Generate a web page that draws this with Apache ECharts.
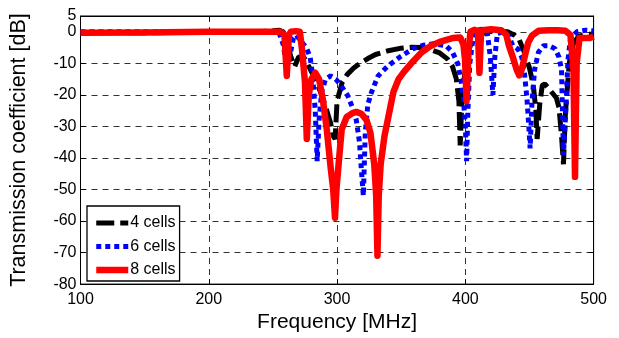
<!DOCTYPE html>
<html>
<head>
<meta charset="utf-8">
<script src="https://cdn.jsdelivr.net/npm/echarts@6/dist/echarts.min.js"></script>
<style>
html,body{margin:0;padding:0;background:#fff;}
#chart{width:619px;height:338px;}
</style>
</head>
<body>
<div id="chart"></div>
<script>
// ---- data (frequency in MHz, transmission in dB) ----
const seriesNames = ["4 cells", "6 cells", "8 cells"];
const xTicks = [100, 200, 300, 400, 500];
const yTicks = [-80, -70, -60, -50, -40, -30, -20, -10, 0, 5];

const f4 = [100, 150, 200, 230, 250, 255, 258, 261, 264, 267, 270, 274, 278, 283, 288, 292, 295, 297, 298.5, 300, 304, 308, 313, 318, 324, 330, 340, 350, 358, 366, 374, 380, 386, 390, 393, 395, 396, 397, 399, 402, 405, 410, 418, 426, 433, 438, 442, 446, 450, 453, 455, 456, 458, 460, 462, 465, 468, 471, 473, 475, 476.5, 478, 481, 484, 488, 492, 496, 500];
const db4 = [-0.2, -0.3, -0.2, -0.2, 0.3, 0.5, 0, -3, -8, -11, -8, -8, -11, -15, -20, -25, -29, -33, -34, -22, -16, -13.5, -11.5, -10, -8.5, -7.2, -6, -5.2, -4.9, -5, -5.8, -6.7, -8.6, -11, -15, -22, -36, -25, -15, -7, -3, -1, 0, 0.2, 0, -1, -2.5, -6.5, -11.5, -17, -25, -34, -23, -17, -16.5, -18, -19.5, -21, -24, -33, -42, -26, -10, -4, -1.5, -1, -0.7, -1];

const f6 = [100, 150, 200, 250, 255, 258, 260, 262, 264, 266, 268, 272, 276, 279, 281, 283, 284.5, 286, 288, 291, 295, 299, 303, 308, 312, 315, 317.5, 319, 320.5, 322, 324, 327, 332, 340, 349, 359, 367, 375, 385, 390, 394, 396.5, 398.5, 400, 401, 402, 403.5, 406, 409, 413, 417, 419.5, 421.5, 423, 425, 430, 434, 437, 441, 444, 446, 448, 449.5, 450.5, 452, 454, 457, 461, 465, 470, 473, 475, 476.5, 478.5, 480, 482, 487, 494, 500];
const db6 = [0, 0, 0, 0, -0.5, -4, -9, -10, -6, -2, -1, -3, -5, -8, -14, -25, -41, -28, -19, -15, -14, -15, -17, -20, -24, -28, -35, -44, -52, -32, -23, -19, -14, -10.7, -8, -5.4, -4.3, -3.8, -4.4, -6.5, -10, -15, -21, -30, -41, -25, -10, -2, 0.5, 0.8, 0, -8, -20, -8, -0.5, 0, -1.5, -4.4, -5.5, -8, -12.8, -21, -30, -37, -22, -12, -6.5, -4.4, -4.4, -5.4, -8, -12, -39, -24, -9, -2, 0, 0.5, 0.3];

const f8 = [100, 150, 200, 250, 256, 259, 260.8, 262.5, 264, 268, 271, 272.5, 275, 276.4, 278, 280, 283, 286, 289, 292, 295, 297, 298.4, 299.5, 301, 303.6, 307.5, 312, 315, 319, 323, 326, 329, 330.5, 331.5, 332.5, 334, 337, 341.5, 344, 348, 352, 359, 366, 373, 380, 390, 396, 398.5, 399.8, 401, 402.5, 404, 407, 409.8, 411, 412.3, 415, 420, 428, 432, 434, 437, 440, 442, 444, 446.5, 449, 452, 457, 465, 472, 478, 482, 484.3, 485.5, 486.8, 489, 493, 497, 500];
const db8 = [-0.3, -0.2, 0, 0, 0, -1, -14, -1, 0, 0.2, 0, -5, -16, -34, -20, -15, -13, -15, -21.7, -31, -43, -50, -59, -50, -43, -31, -27, -25.8, -25.4, -26, -28, -32, -42, -52, -71, -52, -42, -33, -24, -19, -15, -12.8, -9.5, -6.5, -4.5, -3.2, -2, -1.8, -4, -9, -22, -6, 0, 0.6, 0.3, -13, 0.3, 0.6, 0.8, 0.5, -1, -4.4, -8, -12, -13.8, -12, -7.5, -3.5, -1.2, 0.3, 0.5, 0.5, 0.3, -1, -12, -46, -10, -2, -2, -2, -1.5];

const chart = echarts.init(document.getElementById('chart'), null, {renderer: 'canvas'});
const FONT = 'Liberation Sans, Arial, sans-serif';

function pairs(xs, ys) { return xs.map((x, i) => [x, ys[i]]); }

const axisCommon = {
  axisLine: {show: true, onZero: false, lineStyle: {color: '#000', width: 1}},
  axisTick: {show: true, inside: true, length: 5, lineStyle: {color: '#000'}},
};
const yMin = yTicks[0], yMax = yTicks[yTicks.length - 1];

const option = {
  animation: false,
  backgroundColor: '#fff',
  grid: {left: 80.5, right: 25.4, top: 16, bottom: 53, show: true, borderColor: '#000', borderWidth: 1, backgroundColor: 'transparent'},
  legend: {
    orient: 'vertical', left: 87, top: 206,
    data: seriesNames,
    itemWidth: 32, itemHeight: 14, itemGap: 7.5,
    padding: [9, 4, 3, 6],
    backgroundColor: '#fff', borderColor: '#000', borderWidth: 1.3, borderRadius: 0,
    itemStyle: {opacity: 0},
    lineStyle: {width: 'inherit'},
    textStyle: {fontFamily: FONT, fontSize: 16, color: '#000', padding: [0, 0, 0, -3]}
  },
  xAxis: [
    Object.assign({
      type: 'value', min: xTicks[0], max: xTicks[xTicks.length - 1], interval: 100,
      position: 'bottom',
      name: 'Frequency [MHz]', nameLocation: 'middle', nameGap: 27,
      nameTextStyle: {fontFamily: FONT, fontSize: 21, color: '#000'},
      axisLabel: {fontFamily: FONT, fontSize: 16, color: '#000', margin: 7, showMinLabel: true, showMaxLabel: true},
      splitLine: {show: true, lineStyle: {color: '#333', type: [6, 5], width: 1}}
    }, axisCommon),
    Object.assign({
      type: 'value', min: xTicks[0], max: xTicks[xTicks.length - 1], interval: 100,
      position: 'top', axisLabel: {show: false}, splitLine: {show: false}
    }, axisCommon)
  ],
  yAxis: [
    Object.assign({
      type: 'value', min: yMin, max: yMax, interval: 10,
      position: 'left',
      name: 'Transmission coefficient [dB]', nameLocation: 'middle', nameGap: 50,
      nameTextStyle: {fontFamily: FONT, fontSize: 21.5, color: '#000'},
      axisLabel: {fontFamily: FONT, fontSize: 16, color: '#000', margin: 4, showMinLabel: true, showMaxLabel: false},
      splitLine: {show: true, lineStyle: {color: '#333', type: [6, 5], width: 1}}
    }, axisCommon),
    Object.assign({
      type: 'value', min: yMin, max: yMax, interval: 10,
      position: 'right', axisLabel: {show: false}, splitLine: {show: false}
    }, axisCommon),
    {
      // top-end label (5 dB) of the left axis
      type: 'value', min: yMin, max: yMax, interval: yMax - yMin,
      position: 'left', offset: 0,
      axisLine: {show: false}, axisTick: {show: false}, splitLine: {show: false},
      axisLabel: {fontFamily: FONT, fontSize: 16, color: '#000', margin: 4, showMinLabel: false, showMaxLabel: true,
        formatter: v => (v === yMax ? String(yMax) : '')}
    }
  ],
  series: [
    {
      name: seriesNames[0], type: 'line', symbol: 'none', smooth: false,
      data: pairs(f4, db4),
      lineStyle: {color: '#000', width: 5, type: [18, 6], cap: 'butt'},
      itemStyle: {color: '#000'}
    },
    {
      name: seriesNames[1], type: 'line', symbol: 'none', smooth: false,
      data: pairs(f6, db6),
      lineStyle: {color: '#0000ff', width: 5, type: [5, 4], cap: 'butt'},
      itemStyle: {color: '#0000ff'}
    },
    {
      name: seriesNames[2], type: 'line', symbol: 'none', smooth: false,
      data: pairs(f8, db8),
      lineStyle: {color: '#ff0000', width: 6.5, type: 'solid', join: 'round'},
      itemStyle: {color: '#ff0000'}
    }
  ]
};
chart.setOption(option);
</script>
</body>
</html>
